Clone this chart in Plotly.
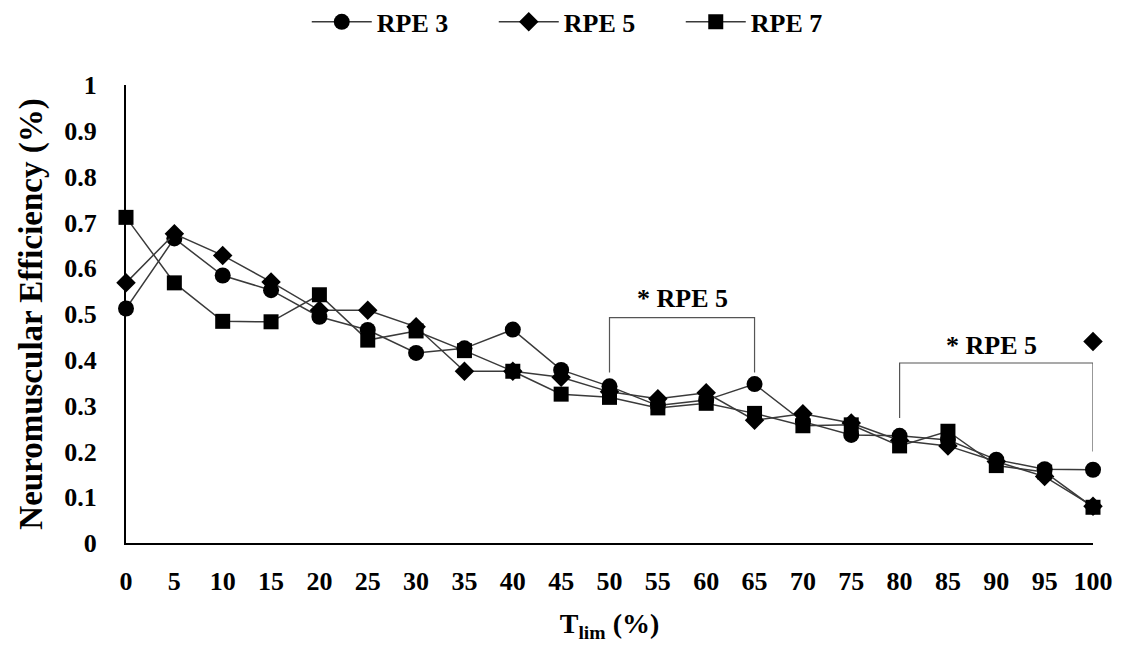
import plotly.graph_objects as go

tlim = [0, 5, 10, 15, 20, 25, 30, 35, 40, 45, 50, 55, 60, 65, 70, 75, 80, 85, 90, 95, 100]
rpe3 = [0.512, 0.665, 0.584, 0.552, 0.494, 0.465, 0.415, 0.425, 0.466, 0.378, 0.342, 0.300, 0.312, 0.347, 0.265, 0.236, 0.234, 0.225, 0.182, 0.161, 0.160]
rpe5 = [0.568, 0.675, 0.628, 0.570, 0.508, 0.508, 0.472, 0.375, 0.375, 0.362, 0.330, 0.315, 0.328, 0.268, 0.282, 0.262, 0.224, 0.212, 0.178, 0.145, 0.080]
rpe7 = [0.711, 0.568, 0.484, 0.483, 0.542, 0.443, 0.463, 0.420, 0.375, 0.325, 0.318, 0.295, 0.305, 0.283, 0.256, 0.258, 0.212, 0.244, 0.169, 0.155, 0.078]
extra_diamond_x = [100]
extra_diamond_y = [0.44]

brackets = [
    # x_left, x_right, y_top, y_left_bottom, y_right_bottom, label_x, label_y
    (50, 65, 0.492, 0.372, 0.372, 57.5, 0.533),
    (80, 100, 0.393, 0.273, 0.200, 89.5, 0.432),
]
bracket_label = "* RPE 5"

line_color = "#3a3a3a"
font_family = "Liberation Serif, Times New Roman, serif"

fig = go.Figure()
for name, vals, sym, size in [("RPE 3", rpe3, "circle", 16),
                              ("RPE 5", rpe5, "diamond", 15),
                              ("RPE 7", rpe7, "square", 15)]:
    fig.add_trace(go.Scatter(
        x=tlim, y=vals, name="<b>" + name + "</b>", mode="lines+markers",
        line=dict(color=line_color, width=1.5),
        marker=dict(symbol=sym, size=size, color="black"),
        cliponaxis=False,
    ))

fig.add_trace(go.Scatter(
    x=extra_diamond_x, y=extra_diamond_y, mode="markers", showlegend=False,
    marker=dict(symbol="diamond", size=15, color="black"), cliponaxis=False,
))

for (xl, xr, yt, ybl, ybr, lx, ly) in brackets:
    fig.add_trace(go.Scatter(
        x=[xl, xl, xr, xr], y=[ybl, yt, yt, ybr], mode="lines", showlegend=False,
        line=dict(color="#555555", width=1.2), cliponaxis=False, hoverinfo="skip",
    ))
    fig.add_annotation(x=lx, y=ly, text="<b>" + bracket_label + "</b>", showarrow=False,
                       font=dict(family=font_family, size=26, color="black"))

fig.update_layout(
    width=1126, height=646,
    margin=dict(l=126, r=33, t=85, b=100),
    paper_bgcolor="white", plot_bgcolor="white",
    font=dict(family=font_family, color="black"),
    showlegend=True,
    legend=dict(orientation="h", x=0.477, xanchor="center", y=0.966, yref="container",
                yanchor="middle", itemwidth=60, entrywidth=112,
                font=dict(family=font_family, size=26, color="black"),
                traceorder="normal"),
    xaxis=dict(range=[0, 100], tickmode="array", tickvals=tlim,
               ticktext=["<b>%d</b>" % v for v in tlim],
               showline=True, linecolor="black", linewidth=2, showgrid=False,
               zeroline=False, ticks="", ticklabelstandoff=14,
               tickfont=dict(family=font_family, size=26, color="black"),
               title=dict(text="<b>T<sub>lim</sub> (%)</b>", standoff=18,
                          font=dict(family=font_family, size=28, color="black"))),
    yaxis=dict(range=[0, 1], dtick=0.1, tick0=0,
               showline=True, linecolor="black", linewidth=2, showgrid=False,
               zeroline=False, ticks="", ticklabelstandoff=22,
               tickfont=dict(family=font_family, size=26, color="black"),
               tickprefix="<b>", ticksuffix="</b>",
               title=dict(text="<b>Neuromuscular Efficiency (%)</b>", standoff=12,
                          font=dict(family=font_family, size=33, color="black"))),
)

fig.write_html("out.html")
